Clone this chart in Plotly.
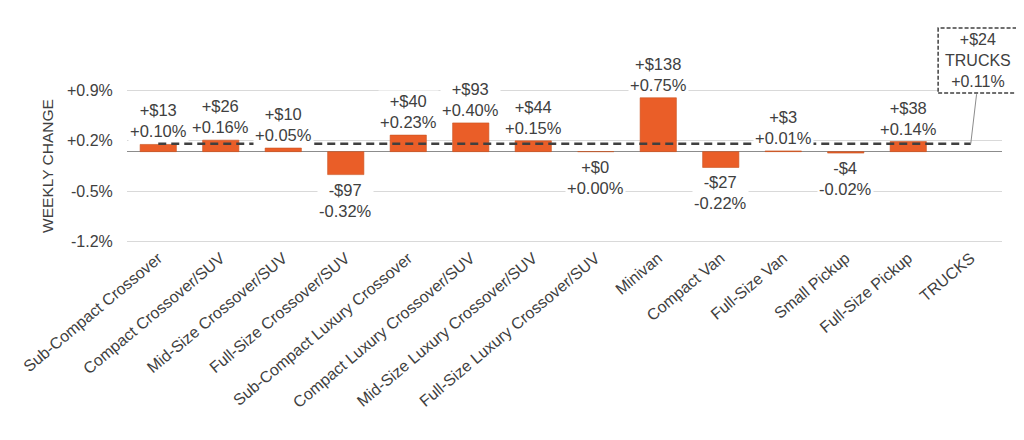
import plotly.graph_objects as go

categories = [
    "Sub-Compact Crossover",
    "Compact Crossover/SUV",
    "Mid-Size Crossover/SUV",
    "Full-Size Crossover/SUV",
    "Sub-Compact Luxury Crossover",
    "Compact Luxury Crossover/SUV",
    "Mid-Size Luxury Crossover/SUV",
    "Full-Size Luxury Crossover/SUV",
    "Minivan",
    "Compact Van",
    "Full-Size Van",
    "Small Pickup",
    "Full-Size Pickup",
    "TRUCKS",
]
pct_change = [0.10, 0.16, 0.05, -0.32, 0.23, 0.40, 0.15, 0.00, 0.75, -0.22, 0.01, -0.02, 0.14, None]
dollar_change = [13, 26, 10, -97, 40, 93, 44, 0, 138, -27, 3, -4, 38, None]

trucks_dollar = 24
trucks_pct = 0.11

y_tickvals = [-1.25, -0.55, 0.15, 0.85]
y_ticktext = ["-1.2%", "-0.5%", "+0.2%", "+0.9%"]

text_color = "#404040"
bar_color = "#EA5E28"
font_family = "Liberation Sans, Arial"


def fmt(d, p):
    s1 = ("+" if d >= 0 else "-") + "$" + str(abs(d))
    s2 = ("+" if p >= 0 else "-") + f"{abs(p):.2f}%"
    return s1 + "<br>" + s2


fig = go.Figure()

fig.add_trace(go.Bar(
    x=categories, y=pct_change,
    marker=dict(color=bar_color, line=dict(color="#C9521F", width=0.6)),
    width=0.58, showlegend=False, hoverinfo="skip",
))

# dashed average line across all segments
fig.add_trace(go.Scatter(
    x=[categories[0], categories[-1]], y=[trucks_pct, trucks_pct],
    mode="lines", line=dict(color=text_color, width=2.5, dash="8px,5px"),
    showlegend=False, hoverinfo="skip",
))

annotations = []
for c, d, p in zip(categories, dollar_change, pct_change):
    if p is None:
        continue
    up = p > 0
    annotations.append(dict(
        x=c, y=p, text=fmt(d, p), showarrow=False,
        yanchor="bottom" if up else "top",
        yshift=2 if up else -4,
        font=dict(size=16.5, color=text_color, family=font_family),
        bgcolor="white", borderpad=1,
    ))

# TRUCKS callout: leader line + boxed text
annotations.append(dict(
    x=categories[-1], y=trucks_pct, text="",
    showarrow=True, arrowhead=0, arrowwidth=1, arrowcolor="#8C8C8C",
    ax=6, ay=-51, standoff=0,
))
annotations.append(dict(
    xref="paper", yref="paper", x=0.972, y=1.1675,
    xanchor="center", yanchor="middle", showarrow=False,
    text=f"+${trucks_dollar}<br>TRUCKS<br>+{trucks_pct:.2f}%",
    font=dict(size=16, color=text_color, family=font_family),
))

fig.update_layout(
    width=1016, height=432,
    margin=dict(l=112, r=22, t=79, b=195),
    plot_bgcolor="white", paper_bgcolor="white",
    font=dict(family=font_family, size=16, color=text_color),
    annotations=annotations,
    shapes=[dict(
        type="rect", xref="paper", yref="paper",
        x0=0.927, x1=1.017, y0=0.962, y1=1.373,
        line=dict(color=text_color, width=1.5, dash="4px,2px"),
        fillcolor="white", layer="above",
    )],
    xaxis=dict(
        categoryorder="array", categoryarray=categories,
        tickangle=-40, tickfont=dict(size=16, color=text_color),
        showgrid=False, showline=False, ticks="",
    ),
    yaxis=dict(
        range=[-1.3, 0.9],
        tickvals=y_tickvals, ticktext=y_ticktext,
        tickfont=dict(size=16, color=text_color),
        ticks="outside", ticklen=10, tickcolor="rgba(0,0,0,0)",
        showgrid=True, gridcolor="#D9D9D9", gridwidth=1,
        zeroline=True, zerolinecolor="#8C8C8C", zerolinewidth=1.2,
        title=dict(text="WEEKLY CHANGE", font=dict(size=15.5, color=text_color), standoff=9),
    ),
)

fig.write_html("out.html")
